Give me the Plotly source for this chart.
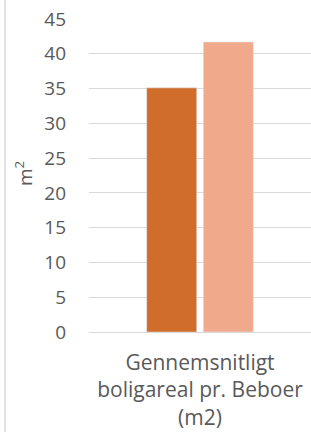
import plotly.graph_objects as go

categories = ["Gennemsnitligt<br>boligareal pr. Beboer<br>(m2)"]
series_a = [35.1]
series_b = [41.7]
y_ticks = [0, 5, 10, 15, 20, 25, 30, 35, 40, 45]

W, H = 311, 432
L, R, T, B = 89, 0, 19, 100
pw, ph = W - L - R, H - T - B

font = "Open Sans"
grey = "#595959"

fig = go.Figure()
fig.add_trace(go.Bar(x=categories, y=series_a, marker_color="#D16D2B", name="A"))
fig.add_trace(go.Bar(x=categories, y=series_b, marker_color="#F0A98A", name="B"))

fig.update_layout(
    width=W, height=H,
    margin=dict(l=L, r=R, t=T, b=B, pad=0, autoexpand=False),
    paper_bgcolor="white", plot_bgcolor="white",
    showlegend=False,
    barmode="group", bargap=0.49, bargroupgap=0.115,
    font=dict(family=font, size=19, color=grey),
)
fig.update_xaxes(
    showgrid=False, showline=False, zeroline=False, automargin=False,
    tickfont=dict(family=font, size=21, color=grey),
    ticks="", ticklabelstandoff=16,
)
fig.update_yaxes(
    range=[0, 45], tickvals=y_ticks, automargin=False,
    showgrid=True, gridcolor="#D9D9D9", gridwidth=1.3,
    zeroline=True, zerolinecolor="#D9D9D9", zerolinewidth=1.3,
    showline=False, ticks="",
    tickfont=dict(family=font, size=19, color=grey),
    ticklabelstandoff=22,
)
fig.add_annotation(
    text="m<sup>2</sup>", textangle=-90, showarrow=False,
    xref="paper", yref="paper",
    x=(24 - L) / pw, y=(H - B - 174) / ph,
    xanchor="center", yanchor="middle",
    font=dict(family=font, size=19, color=grey),
)
fig.add_shape(
    type="line", xref="paper", yref="paper",
    x0=(5 - L) / pw, x1=(5 - L) / pw,
    y0=(H - B - 0) / ph, y1=(H - B - H) / ph,
    line=dict(color="#D9D9D9", width=1.5),
)
fig.write_html(
    "out.html",
    config={"displayModeBar": False},
    post_script="document.body.style.margin='0';document.body.style.overflow='hidden';",
)
